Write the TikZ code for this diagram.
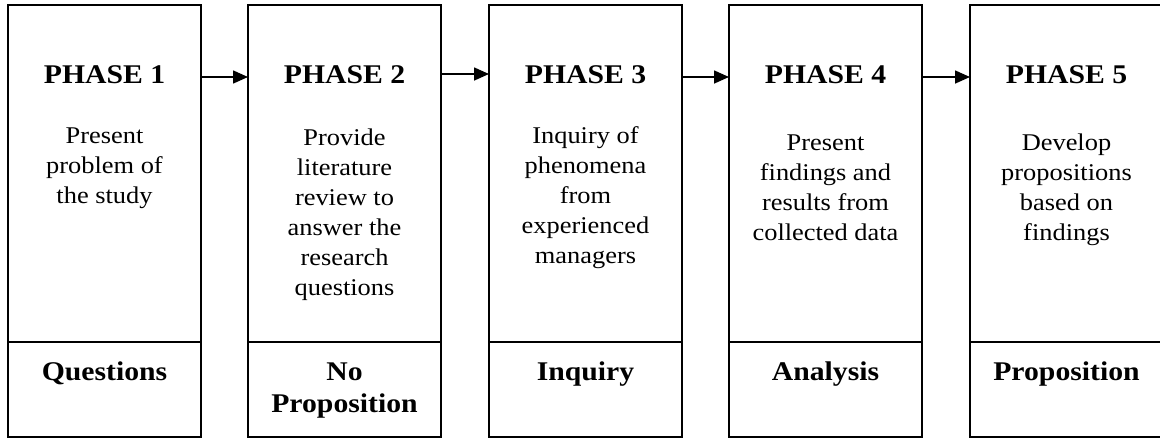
\documentclass[tikz,border=0pt]{standalone}
\usepackage{fontspec}
\setmainfont{Liberation Serif}[FakeStretch=1.1]
\usetikzlibrary{arrows.meta}
\begin{document}
\begin{tikzpicture}[x=1pt,y=-1pt,
  phasebox/.style={draw, line width=1.8pt, minimum width=193pt, minimum height=432pt,
    anchor=north west, inner sep=0pt, outer sep=0pt},
  heading/.style={anchor=base, inner sep=0pt, font=\fontsize{27}{32}\selectfont\bfseries},
  body/.style={anchor=base, inner sep=0pt, font=\fontsize{24}{30}\selectfont},
  phaselabel/.style={anchor=base, inner sep=0pt, font=\fontsize{27}{32}\selectfont\bfseries},
  flow/.style={-{Triangle[length=15pt,width=13pt]}, line width=1.6pt},
  divider/.style={line width=1.8pt}
]
\useasboundingbox (0,0) rectangle (1160,440);

% phase boxes
\node[phasebox] (b1) at (8,5) {};
\node[phasebox] (b2) at (248,5) {};
\node[phasebox] (b3) at (489,5) {};
\node[phasebox] (b4) at (729,5) {};
\node[phasebox] (b5) at (970,5) {};

% headings
\node[heading] (h1) at (104.5,83) {PHASE 1};
\node[heading] (h2) at (344.5,83) {PHASE 2};
\node[heading] (h3) at (585.5,83) {PHASE 3};
\node[heading] (h4) at (825.5,83) {PHASE 4};
\node[heading] (h5) at (1066.5,83) {PHASE 5};

% descriptions
\node[body] (t1) at (104.5,143) {\parbox[t]{188pt}{\centering Present\\problem of\\the study}};
\node[body] (t2) at (344.5,145) {\parbox[t]{188pt}{\centering Provide\\literature\\review to\\answer the\\research\\questions}};
\node[body] (t3) at (585.5,143) {\parbox[t]{188pt}{\centering Inquiry of\\phenomena\\from\\experienced\\managers}};
\node[body] (t4) at (825.5,150) {\parbox[t]{188pt}{\centering Present\\findings and\\results from\\collected data}};
\node[body] (t5) at (1066.5,150) {\parbox[t]{188pt}{\centering Develop\\propositions\\based on\\findings}};

% dividers above the bottom labels
\foreach \b in {b1,b2,b3,b4,b5}
  \draw[divider] ([yshift=-337pt]\b.north west) -- ([yshift=-337pt]\b.north east);

% bottom labels
\node[phaselabel] (l1) at (104.5,380) {Questions};
\node[phaselabel] (l2) at (344.5,380) {\parbox[t]{188pt}{\centering No\\Proposition}};
\node[phaselabel] (l3) at (585.5,380) {Inquiry};
\node[phaselabel] (l4) at (825.5,380) {Analysis};
\node[phaselabel] (l5) at (1066.5,380) {Proposition};

% arrows between phases
\draw[flow] ([yshift=-72pt]b1.north east) -- ([yshift=-72pt]b2.north west);
\draw[flow] ([yshift=-69pt]b2.north east) -- ([yshift=-69pt]b3.north west);
\draw[flow] ([yshift=-72pt]b3.north east) -- ([yshift=-72pt]b4.north west);
\draw[flow] ([yshift=-72pt]b4.north east) -- ([yshift=-72pt]b5.north west);
\end{tikzpicture}
\end{document}
